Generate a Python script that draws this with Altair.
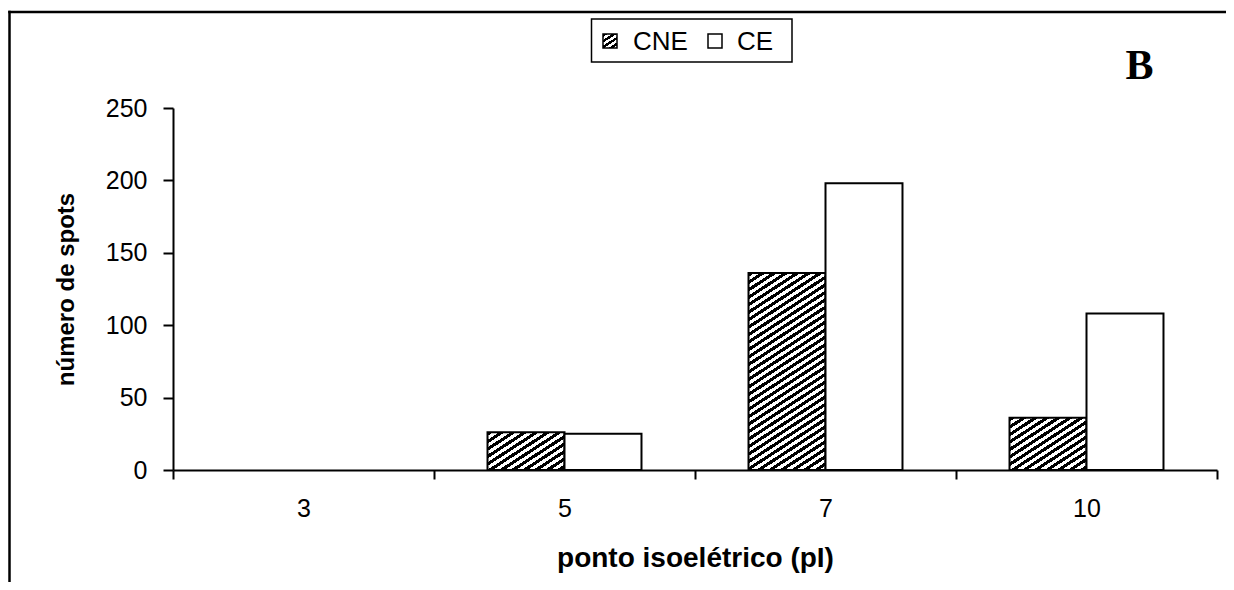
import math
import altair as alt
import pandas as pd

# ---- data ----
categorias = ["3", "5", "7", "10"]
series = ["CNE", "CE"]
cne = [0, 26, 136, 36]
ce = [0, 25, 198, 108]
y_ticks = [0, 50, 100, 150, 200, 250]

rows = []
for c, a, b in zip(categorias, cne, ce):
    rows.append({"pI": c, "serie": "CNE", "spots": a})
    rows.append({"pI": c, "serie": "CE", "spots": b})
df = pd.DataFrame(rows)

# ---- layout ----
W, H = 1044, 362
PAD = {"left": 165, "top": 100, "right": 9, "bottom": 112}
YMAX = 250
PO = 0.695
step = W / len(categorias)
bar_w = step / (2 + 2 * PO)

FONT = "Liberation Sans"
theta = math.radians(33)


def hatch(w, h, period_h=11.5):
    """Diagonal black/white stripes as a hard-stop linear gradient in a w x h box."""
    pn = period_h * math.sin(theta)
    s, c = math.sin(theta), math.cos(theta)
    dmax = w * s + h * c
    denom = (w * s) ** 2 + (h * c) ** 2
    k = dmax / denom
    stops = [{"offset": 0, "color": "black"}]
    half = pn / 2 / dmax
    t = half
    color = "black"
    while t < 1:
        nxt = "white" if color == "black" else "black"
        stops.append({"offset": round(t, 5), "color": color})
        stops.append({"offset": round(t, 5), "color": nxt})
        color = nxt
        t += half
    stops.append({"offset": 1, "color": color})
    return {"gradient": "linear", "x1": 0, "y1": 0,
            "x2": k * w * s, "y2": k * h * c, "stops": stops}


conds = []
for c, v in zip(categorias, cne):
    if v > 0:
        conds.append({"test": f"datum.serie === 'CNE' && datum.pI === '{c}'",
                      "value": hatch(bar_w, v * H / YMAX)})

x_enc = alt.X(
    "pI:N",
    scale=alt.Scale(domain=categorias, paddingInner=0, paddingOuter=0),
    axis=alt.Axis(
        title="ponto isoelétrico (pI)", labelAngle=0, tickBand="extent",
        tickSize=9, tickWidth=2, tickColor="black",
        domainColor="black", domainWidth=2, grid=False,
        labelFont=FONT, labelFontSize=25, labelColor="black", labelPadding=17,
        titleFont=FONT, titleFontSize=28, titleFontWeight="bold",
        titleColor="black", titlePadding=23,
    ),
)
y_enc = alt.Y(
    "spots:Q",
    scale=alt.Scale(domain=[0, YMAX], nice=False),
    axis=alt.Axis(
        title="número de spots", values=y_ticks, tickSize=10, tickWidth=2,
        tickColor="black", domainColor="black", domainWidth=2, grid=False,
        labelFont=FONT, labelFontSize=25, labelColor="black", labelPadding=16,
        titleFont=FONT, titleFontSize=24, titleFontWeight="bold",
        titleColor="black", titlePadding=27,
    ),
)

bars = alt.Chart(df).mark_bar(stroke="black", strokeWidth=2).encode(
    x=x_enc,
    xOffset=alt.XOffset("serie:N", scale=alt.Scale(domain=series, paddingOuter=PO, paddingInner=0)),
    y=y_enc,
    fill=alt.value("white", condition=conds),
).transform_filter("datum.spots > 0")

one = alt.Data(values=[{}])

# outer frame of the figure: only its top and left edges fall inside the picture
FX, FY = -163.5, -96
frame_top = alt.Chart(one).mark_rule(color="black", strokeWidth=2.5, clip=False).encode(
    x=alt.value(FX - 1.25), x2=alt.value(W + PAD["right"]), y=alt.value(FY)
)
frame_left = alt.Chart(one).mark_rule(color="black", strokeWidth=2.5, clip=False).encode(
    x=alt.value(FX), y=alt.value(FY - 1.25), y2=alt.value(H + PAD["bottom"])
)

# legend box
leg_box = alt.Chart(one).mark_rect(
    fill="white", stroke="black", strokeWidth=1.5, clip=False
).encode(x=alt.value(418.5), x2=alt.value(619), y=alt.value(-89), y2=alt.value(-46))

SYM = 14
leg_sym_cne = alt.Chart(one).mark_rect(stroke="black", strokeWidth=1.5, clip=False).encode(
    x=alt.value(430), x2=alt.value(430 + SYM), y=alt.value(-74), y2=alt.value(-74 + SYM),
    fill=alt.value(hatch(SYM, SYM, 9)),
)
leg_sym_ce = alt.Chart(one).mark_rect(fill="white", stroke="black", strokeWidth=1.5, clip=False).encode(
    x=alt.value(535), x2=alt.value(535 + SYM), y=alt.value(-74), y2=alt.value(-74 + SYM),
)
leg_txt_cne = alt.Chart(one).mark_text(
    font=FONT, fontSize=26, color="black", align="left", baseline="middle"
).encode(x=alt.value(460), y=alt.value(-66), text=alt.value(series[0]))
leg_txt_ce = alt.Chart(one).mark_text(
    font=FONT, fontSize=26, color="black", align="left", baseline="middle"
).encode(x=alt.value(564), y=alt.value(-66), text=alt.value(series[1]))

label_b = alt.Chart(one).mark_text(
    font="Liberation Serif", fontSize=42, fontWeight="bold", color="black",
    align="center", baseline="alphabetic",
).encode(x=alt.value(966.5), y=alt.value(-29), text=alt.value("B"))

chart = alt.layer(
    frame_top, frame_left, bars, leg_box, leg_sym_cne, leg_sym_ce,
    leg_txt_cne, leg_txt_ce, label_b
).properties(
    width=W, height=H,
    autosize=alt.AutoSizeParams(type="none"),
    padding=PAD,
    background="white",
).configure_view(strokeWidth=0)

chart.save("out.html", embed_options={"renderer": "svg", "actions": False})
